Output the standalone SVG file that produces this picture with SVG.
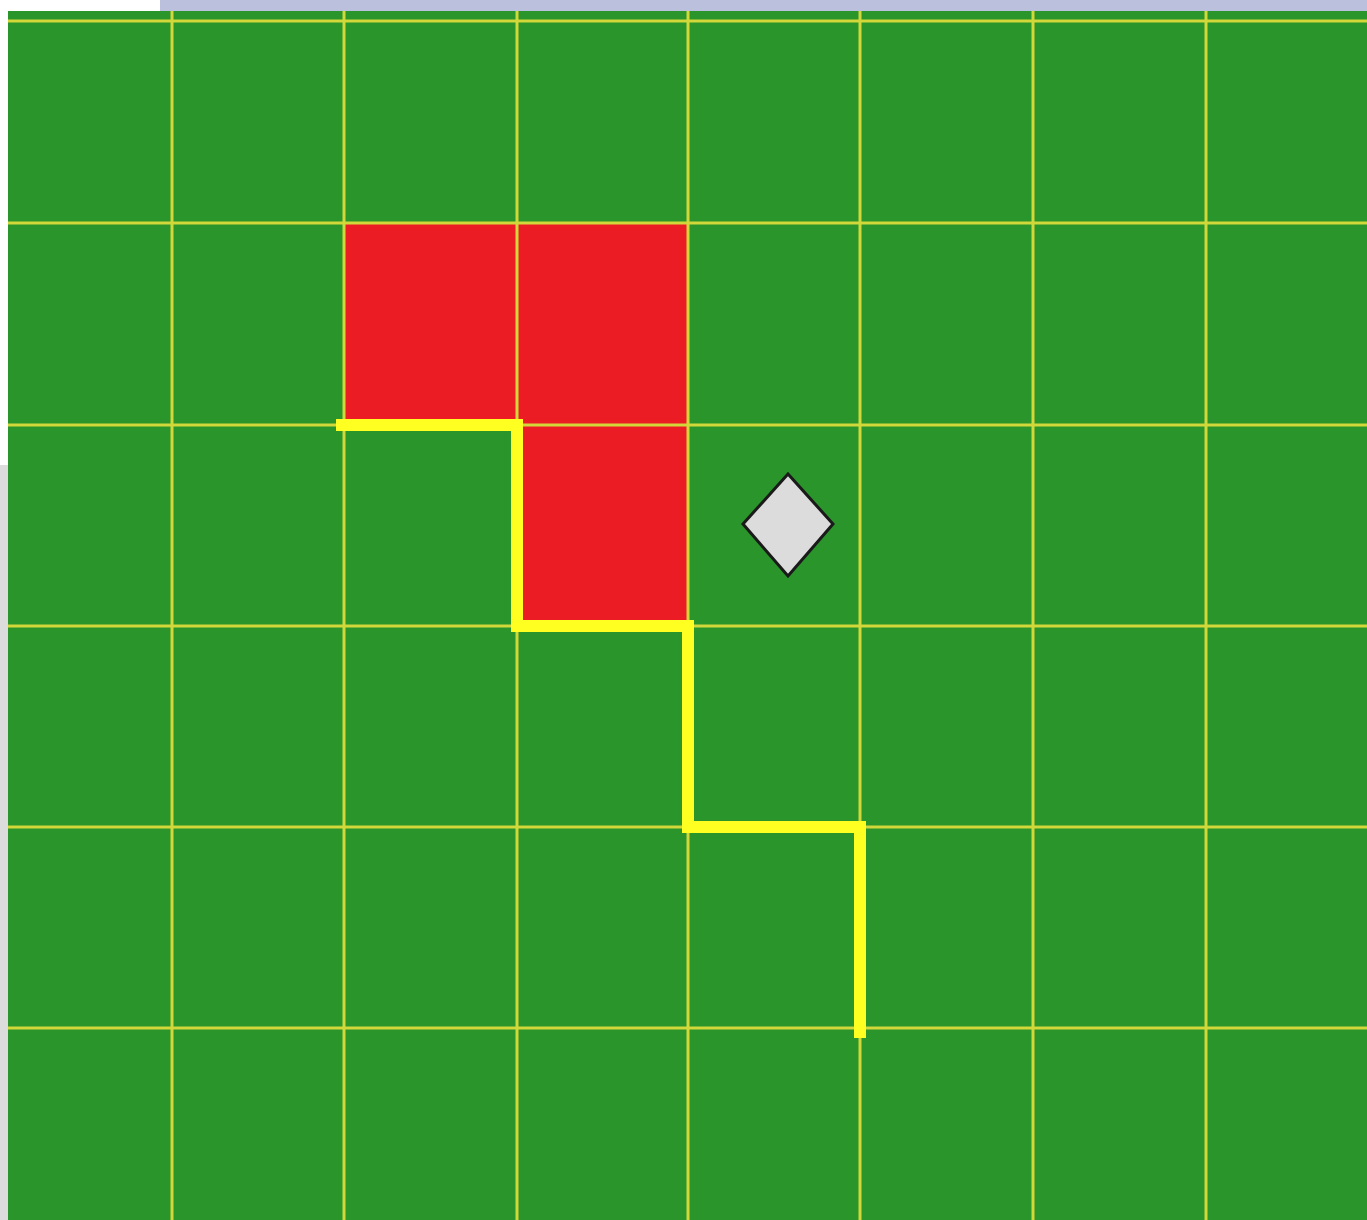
<svg xmlns="http://www.w3.org/2000/svg" width="1367" height="1220" viewBox="0 0 1367 1220">
<style>
.grid{stroke:#d2d83a;stroke-width:3;fill:none}
.cell{fill:#ec1c24}
.path{stroke:#ffff22;stroke-width:12;fill:none;stroke-linejoin:miter;stroke-linecap:square}
</style>
<rect x="0" y="0" width="1367" height="1220" fill="#ffffff"/>
<rect x="0" y="465" width="8" height="755" fill="#dcdcdc"/>
<rect x="160" y="0" width="1207" height="11" fill="#bbc0dc"/>
<rect x="8" y="11" width="1359" height="1209" fill="#2a952b"/>
<g id="cells">
<rect class="cell" x="344" y="223" width="173" height="202"/>
<rect class="cell" x="517" y="223" width="171" height="202"/>
<rect class="cell" x="517" y="425" width="171" height="201"/>
</g>
<g id="grid" class="grid">
<line x1="8" y1="21" x2="1367" y2="21"/>
<line x1="8" y1="223" x2="1367" y2="223"/>
<line x1="8" y1="425" x2="1367" y2="425"/>
<line x1="8" y1="626" x2="1367" y2="626"/>
<line x1="8" y1="827" x2="1367" y2="827"/>
<line x1="8" y1="1028" x2="1367" y2="1028"/>
<line x1="172" y1="11" x2="172" y2="1220"/>
<line x1="344" y1="11" x2="344" y2="1220"/>
<line x1="517" y1="11" x2="517" y2="1220"/>
<line x1="688" y1="11" x2="688" y2="1220"/>
<line x1="860" y1="11" x2="860" y2="1220"/>
<line x1="1033" y1="11" x2="1033" y2="1220"/>
<line x1="1206" y1="11" x2="1206" y2="1220"/>
</g>
<g id="connectors">
<polyline class="path" points="342,425 517,425 517,626 688,626 688,827 860,827 860,1032"/>
</g>
<g id="diamond">
<polygon points="788,474 833,524 788,576 743,524" fill="#dcdcdc" stroke="#1a1a1a" stroke-width="3"/>
</g>
</svg>
